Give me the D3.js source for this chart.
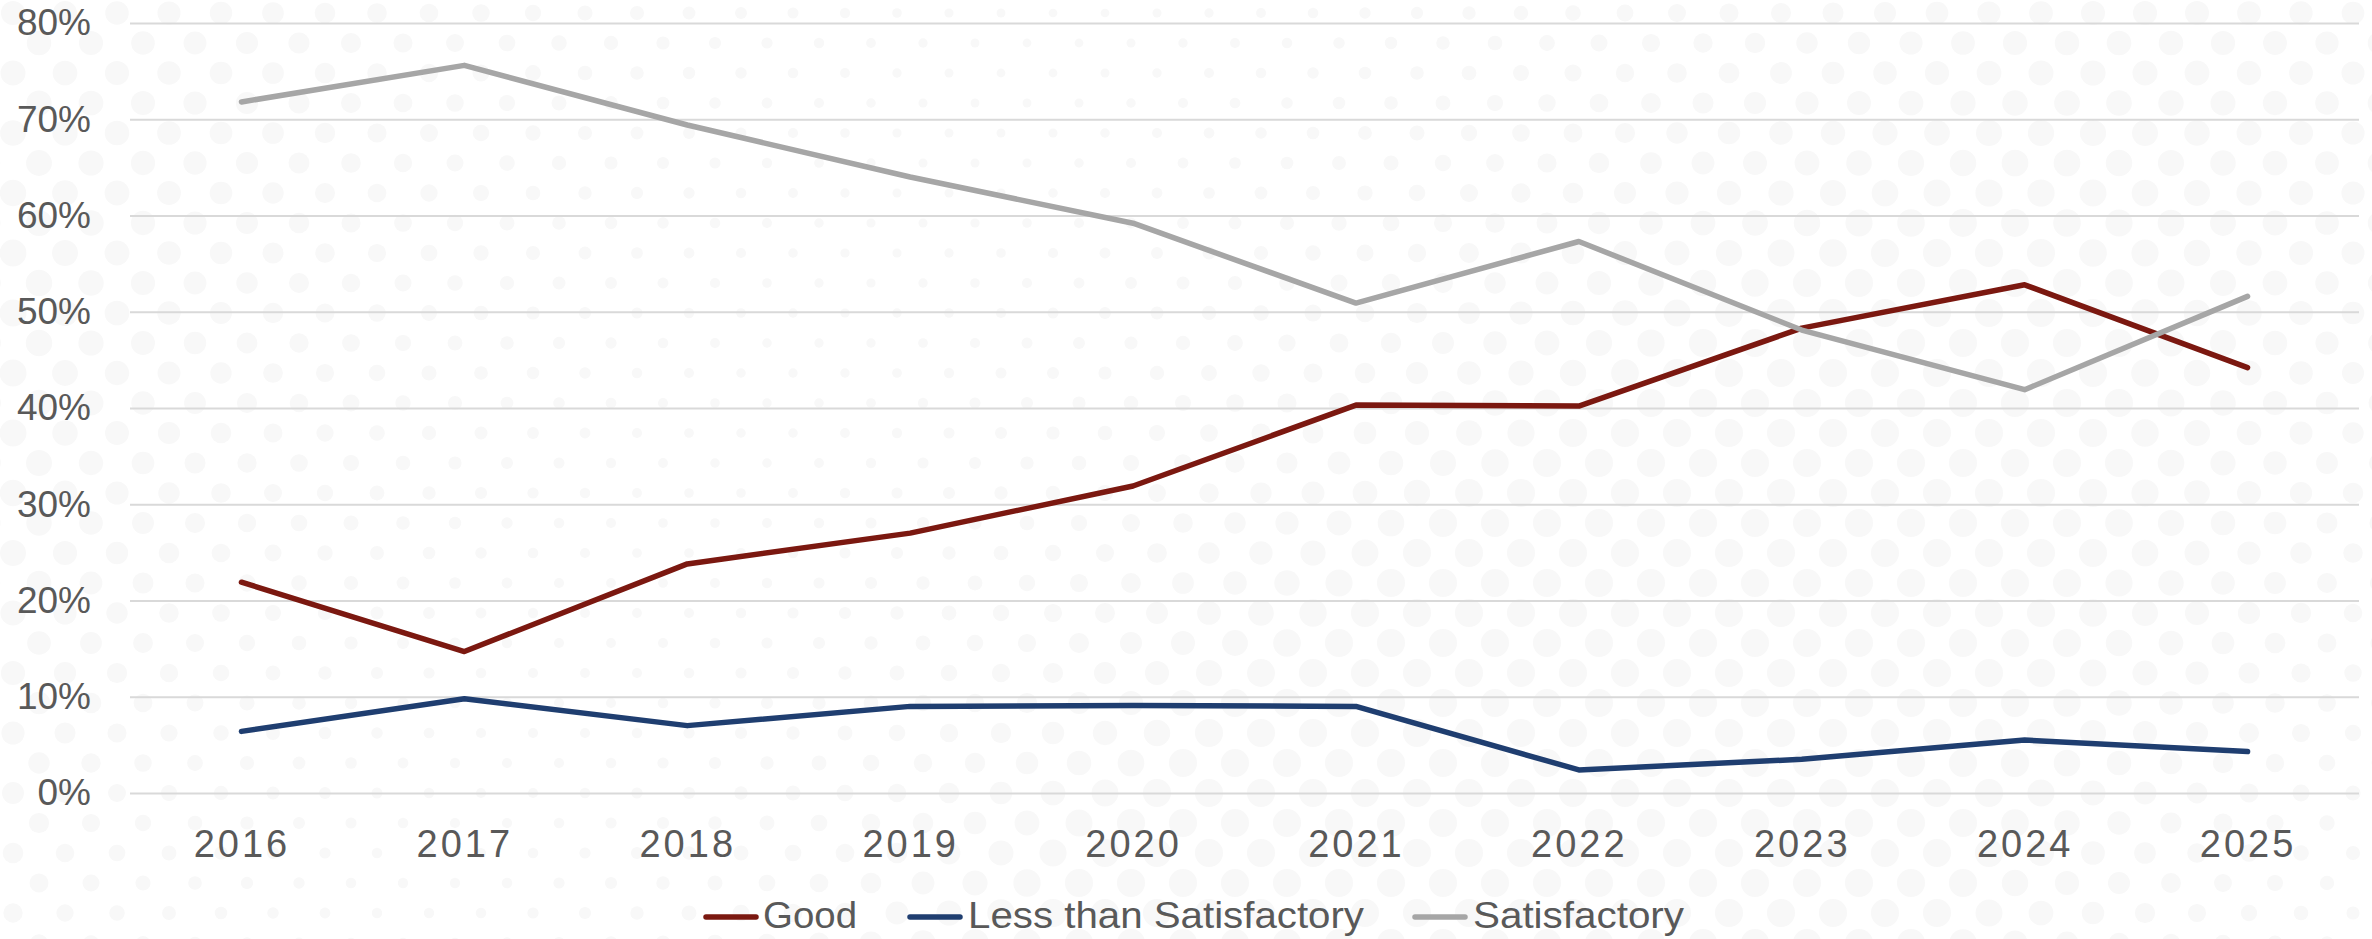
<!DOCTYPE html>
<html>
<head>
<meta charset="utf-8">
<script src="https://cdn.jsdelivr.net/npm/d3@7"></script>
<style>
  html, body { margin: 0; padding: 0; background: #ffffff; }
  svg { display: block; }
</style>
</head>
<body>
<svg id="chart" width="2372" height="939"></svg>
<script>
// ---- data ----
const years = ["2016","2017","2018","2019","2020","2021","2022","2023","2024","2025"];
const good = [21.9, 14.7, 23.8, 27.0, 31.9, 40.3, 40.2, 48.3, 52.8, 44.2];
const lessThanSatisfactory = [6.4, 9.8, 7.0, 9.0, 9.1, 9.0, 2.4, 3.5, 5.5, 4.3];
const satisfactory = [71.8, 75.6, 69.4, 64.0, 59.2, 50.9, 57.3, 48.1, 41.9, 51.6];
const yTicks = [0, 10, 20, 30, 40, 50, 60, 70, 80];
const seriesNames = ["Good", "Less than Satisfactory", "Satisfactory"];
const seriesColors = ["#7B1810", "#1F3E70", "#A6A6A6"];

const series = [
  { name: seriesNames[0], values: good, color: seriesColors[0] },
  { name: seriesNames[1], values: lessThanSatisfactory, color: seriesColors[1] },
  { name: seriesNames[2], values: satisfactory, color: seriesColors[2] }
];

const W = 2372, H = 939;
const svg = d3.select("#chart");
const margin = { left: 130, right: 13, top: 23, bottom: 146 };

// ---- decorative halftone background ----
const bg = svg.append("g");
bg.append("rect").attr("width", W).attr("height", H).attr("fill", "#ffffff");
const dots = [];
const dx = 52, dy = 30;
for (let r = 0; r * dy < H + dy; r++) {
  for (let c = -1; c * dx < W + dx; c++) {
    const x = c * dx + (r % 2 ? dx / 2 : 0) + 13;
    const y = r * dy + 13;
    const fx = x / W, fy = y / H;
    let s = 0.55 + 0.45 * Math.cos(fx * Math.PI * 2.2 + fy * 2.0);
    s = Math.max(0.15, Math.min(1, s * (0.6 + 0.6 * fy) + 0.25));
    dots.push({ x, y, r: 14 * s });
  }
}
bg.selectAll("circle").data(dots).join("circle")
  .attr("cx", d => d.x).attr("cy", d => d.y).attr("r", d => d.r)
  .attr("fill", "#f8f8f8");

// ---- scales ----
const x = d3.scalePoint().domain(years)
  .range([margin.left, W - margin.right]).padding(0.5);
const y = d3.scaleLinear().domain([0, 80])
  .range([H - margin.bottom, margin.top]);

// ---- gridlines ----
const grid = svg.append("g")
  .attr("transform", `translate(${margin.left},0)`)
  .call(d3.axisLeft(y).tickValues(yTicks).tickSize(-(W - margin.left - margin.right)).tickFormat(""));
grid.select(".domain").remove();
grid.selectAll("line").attr("stroke", "#D9D9D9").attr("stroke-width", 2);

// ---- y axis labels ----
const yAxis = svg.append("g")
  .attr("transform", `translate(${margin.left},0)`)
  .call(d3.axisLeft(y).tickValues(yTicks).tickSize(0).tickPadding(39).tickFormat(d => d + "%"));
yAxis.select(".domain").remove();
yAxis.selectAll("text")
  .attr("font-family", "'Liberation Sans', Arial, sans-serif")
  .attr("font-size", 37)
  .attr("fill", "#595959");

// ---- x axis labels ----
const xAxis = svg.append("g")
  .attr("transform", `translate(0,${H - margin.bottom})`)
  .call(d3.axisBottom(x).tickSize(0).tickPadding(37));
xAxis.select(".domain").remove();
xAxis.selectAll("text")
  .attr("font-family", "'Liberation Sans', Arial, sans-serif")
  .attr("font-size", 38)
  .attr("letter-spacing", 3)
  .attr("fill", "#595959");

// ---- lines ----
const line = d3.line()
  .x((d, i) => x(years[i]))
  .y(d => y(d));
svg.append("g").selectAll("path").data(series).join("path")
  .attr("d", d => line(d.values))
  .attr("fill", "none")
  .attr("stroke", d => d.color)
  .attr("stroke-width", 5.5)
  .attr("stroke-linecap", "round")
  .attr("stroke-linejoin", "round");

// ---- legend ----
const legendItems = [
  { swatch: 706, text: 763, width: 94 },
  { swatch: 910, text: 968, width: 396 },
  { swatch: 1415, text: 1473, width: 211 }
];
const legend = svg.append("g");
const ly = 917;
series.forEach((s, i) => {
  const it = legendItems[i];
  legend.append("line")
    .attr("x1", it.swatch).attr("x2", it.swatch + 50)
    .attr("y1", ly).attr("y2", ly)
    .attr("stroke", s.color).attr("stroke-width", 5.5)
    .attr("stroke-linecap", "round");
  legend.append("text")
    .attr("x", it.text).attr("y", 928)
    .attr("font-family", "'Liberation Sans', Arial, sans-serif")
    .attr("font-size", 37)
    .attr("fill", "#595959")
    .attr("textLength", it.width)
    .attr("lengthAdjust", "spacingAndGlyphs")
    .text(s.name);
});
</script>
</body>
</html>
